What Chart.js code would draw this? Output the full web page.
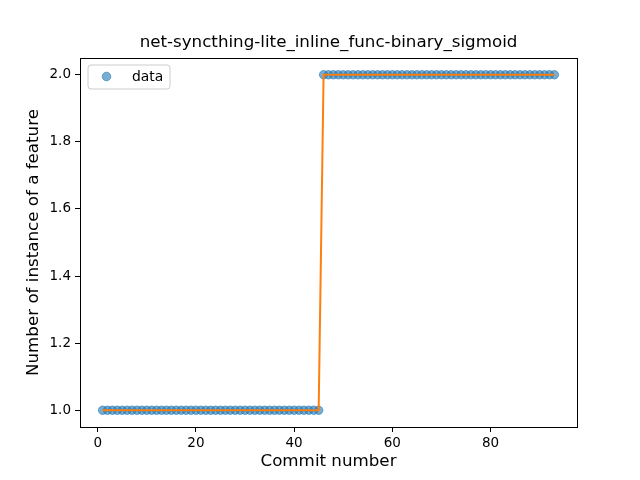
<!DOCTYPE html>
<html>
<head>
<meta charset="utf-8">
<script src="https://cdn.jsdelivr.net/npm/chart.js@4/dist/chart.umd.min.js"></script>
<style>
  html, body { margin: 0; padding: 0; background: #ffffff; }
  canvas { display: block; }
</style>
</head>
<body>
<canvas id="grafico" width="640" height="480"></canvas>
<script>
// dados
const commits = [];
for (let i = 1; i <= 93; i++) commits.push(i);
const valores = [
    1, 1, 1, 1, 1, 1, 1, 1, 1, 1, 1, 1, 1, 1, 1, 1, 1, 1, 1, 1,
    1, 1, 1, 1, 1, 1, 1, 1, 1, 1, 1, 1, 1, 1, 1, 1, 1, 1, 1, 1,
    1, 1, 1, 1, 1,
    2, 2, 2, 2, 2, 2, 2, 2, 2, 2, 2, 2, 2, 2, 2, 2, 2, 2, 2, 2,
    2, 2, 2, 2, 2, 2, 2, 2, 2, 2, 2, 2, 2, 2, 2, 2, 2, 2, 2, 2,
    2, 2, 2, 2, 2, 2, 2, 2
];
const ticksX = [0, 20, 40, 60, 80];
const ticksY = [1.0, 1.2, 1.4, 1.6, 1.8, 2.0];

const titulo = "net-syncthing-lite_inline_func-binary_sigmoid";
const rotuloX = "Commit number";
const rotuloY = "Number of instance of a feature";
const rotuloLegenda = "data";

const FONTE = "'DejaVu Sans', sans-serif";

const pontos = commits.map((c, i) => ({ x: c, y: valores[i] }));

// moldura, título e legenda no estilo matplotlib
const pluginMoldura = {
    id: "moldura",
    afterDraw(chart) {
        const ctx = chart.ctx;
        const a = chart.chartArea;

        ctx.save();
        ctx.strokeStyle = "#000000";
        ctx.lineWidth = 1;
        ctx.strokeRect(a.left + 0.5, a.top + 0.5, a.right - a.left, a.bottom - a.top);

        ctx.fillStyle = "#000000";
        ctx.font = "16.7px " + FONTE;
        ctx.textAlign = "center";
        ctx.textBaseline = "middle";
        ctx.fillText(titulo, (a.left + a.right) / 2, 43);

        // legenda
        const lx = 88, ly = 65, lw = 82, lh = 24, r = 3;
        ctx.beginPath();
        ctx.moveTo(lx + r, ly);
        ctx.lineTo(lx + lw - r, ly);
        ctx.quadraticCurveTo(lx + lw, ly, lx + lw, ly + r);
        ctx.lineTo(lx + lw, ly + lh - r);
        ctx.quadraticCurveTo(lx + lw, ly + lh, lx + lw - r, ly + lh);
        ctx.lineTo(lx + r, ly + lh);
        ctx.quadraticCurveTo(lx, ly + lh, lx, ly + lh - r);
        ctx.lineTo(lx, ly + r);
        ctx.quadraticCurveTo(lx, ly, lx + r, ly);
        ctx.closePath();
        ctx.fillStyle = "rgba(255,255,255,0.8)";
        ctx.fill();
        ctx.strokeStyle = "#cccccc";
        ctx.stroke();

        ctx.beginPath();
        ctx.arc(106.5, 76.5, 4.3, 0, Math.PI * 2);
        ctx.fillStyle = "rgba(31,119,180,0.6)";
        ctx.fill();
        ctx.strokeStyle = "rgba(31,119,180,0.6)";
        ctx.stroke();

        ctx.fillStyle = "#000000";
        ctx.font = "13.9px " + FONTE;
        ctx.textAlign = "left";
        ctx.fillText(rotuloLegenda, 132, 77);
        ctx.restore();
    }
};

new Chart(document.getElementById("grafico"), {
    type: "scatter",
    data: {
        datasets: [
            {
                type: "line",
                label: "linha",
                data: pontos,
                borderColor: "#ff7f0e",
                borderWidth: 2,
                pointRadius: 0,
                fill: false,
                tension: 0,
                order: 0
            },
            {
                label: rotuloLegenda,
                data: pontos,
                backgroundColor: "rgba(31,119,180,0.6)",
                borderColor: "rgba(31,119,180,0.6)",
                borderWidth: 1,
                pointRadius: 4.2,
                order: 1
            }
        ]
    },
    options: {
        responsive: false,
        animation: false,
        devicePixelRatio: 1,
        layout: {
            padding: { top: 58, right: 63, left: 0, bottom: 0 }
        },
        plugins: {
            legend: { display: false },
            title: { display: false },
            tooltip: { enabled: false }
        },
        scales: {
            x: {
                type: "linear",
                min: -3.6,
                max: 97.6,
                afterBuildTicks(scale) {
                    scale.ticks = ticksX.map(v => ({ value: v }));
                },
                afterFit(scale) {
                    scale.height = 53;
                },
                ticks: {
                    color: "#000000",
                    font: { family: FONTE, size: 13.5 },
                    padding: 3,
                    maxRotation: 0,
                    callback: v => String(v)
                },
                grid: {
                    drawOnChartArea: false,
                    drawTicks: true,
                    tickLength: 5,
                    color: "#000000"
                },
                border: { display: true, color: "#000000" },
                title: {
                    display: true,
                    text: rotuloX,
                    color: "#000000",
                    font: { family: FONTE, size: 16.7 },
                    padding: { top: 0, bottom: 8 }
                }
            },
            y: {
                type: "linear",
                min: 0.95,
                max: 2.05,
                afterBuildTicks(scale) {
                    scale.ticks = ticksY.map(v => ({ value: v }));
                },
                afterFit(scale) {
                    scale.width = 80;
                },
                ticks: {
                    color: "#000000",
                    font: { family: FONTE, size: 13.5 },
                    padding: 4,
                    callback: v => Number(v).toFixed(1)
                },
                grid: {
                    drawOnChartArea: false,
                    drawTicks: true,
                    tickLength: 5,
                    color: "#000000"
                },
                border: { display: true, color: "#000000" },
                title: {
                    display: true,
                    text: rotuloY,
                    color: "#000000",
                    font: { family: FONTE, size: 16.7 },
                    padding: { top: 24, bottom: 0 }
                }
            }
        }
    },
    plugins: [pluginMoldura]
});
</script>
</body>
</html>
